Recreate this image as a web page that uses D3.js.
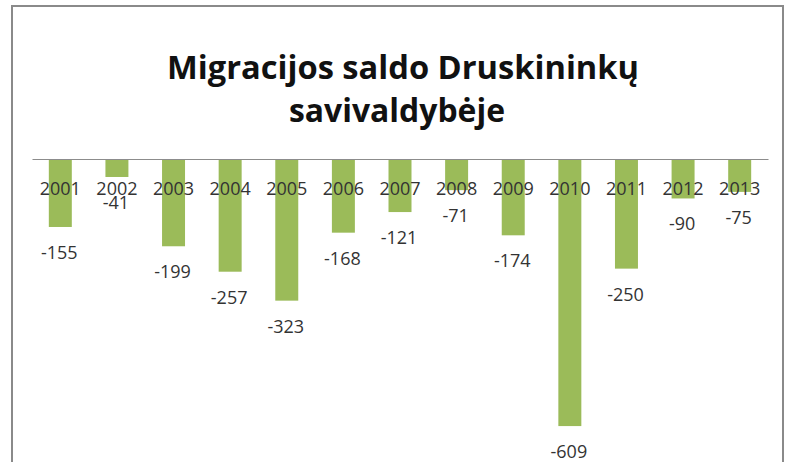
<!DOCTYPE html>
<html><head><meta charset="utf-8">
<script src="https://cdn.jsdelivr.net/npm/d3@7"></script>
<style>
html,body{margin:0;padding:0;background:#fff;}
svg{display:block;}
</style></head>
<body>
<svg id="c" width="793" height="462"></svg>
<script>
const titleLines = ["Migracijos saldo Druskininkų", "savivaldybėje"];
const years = ["2001","2002","2003","2004","2005","2006","2007","2008","2009","2010","2011","2012","2013"];
const values = [-155,-41,-199,-257,-323,-168,-121,-71,-174,-609,-250,-90,-75];

const svg = d3.select("#c");
// frame
svg.append("rect").attr("x",12).attr("y",6).attr("width",771).attr("height",470)
  .attr("fill","#fff").attr("stroke","#8a8a8a").attr("stroke-width",2);

// title
const tl = svg.append("g").attr("font-family","'Open Sans', sans-serif").attr("font-weight","bold")
  .attr("fill","#111").attr("text-anchor","middle");
tl.append("text").attr("x",403).attr("y",79).attr("font-size",33)
  .attr("textLength",472).attr("lengthAdjust","spacingAndGlyphs").text(titleLines[0]);
tl.append("text").attr("x",397).attr("y",122).attr("font-size",33)
  .attr("textLength",216).attr("lengthAdjust","spacingAndGlyphs").text(titleLines[1]);

const x = d3.scaleBand().domain(years).range([32,768]).paddingInner(0.594).paddingOuter(0.297);
const y = d3.scaleLinear().domain([0,-620]).range([159,430.9]);

svg.append("g").selectAll("rect").data(years).join("rect")
  .attr("x",d=>x(d)).attr("width",x.bandwidth())
  .attr("y",y(0)).attr("height",(d,i)=>y(values[i])-y(0))
  .attr("fill","#9bbb59");

const ax = svg.append("g").attr("transform",`translate(0,${y(0)})`)
  .call(d3.axisBottom(x).tickSize(0).tickSizeOuter(0).tickPadding(23));
ax.select(".domain").attr("stroke","#8c8c8c").attr("stroke-width",1.2);
ax.selectAll("text").attr("font-family","'Open Sans', sans-serif").attr("font-size",18).attr("fill","#333");

svg.append("g").selectAll("text").data(years).join("text")
  .attr("x",d=>x(d)+x.bandwidth()/2-1)
  .attr("y",(d,i)=>y(values[i])+32)
  .attr("text-anchor","middle")
  .attr("font-family","'Open Sans', sans-serif").attr("font-size",18).attr("fill","#333")
  .text((d,i)=>values[i]);
</script>
</body></html>
